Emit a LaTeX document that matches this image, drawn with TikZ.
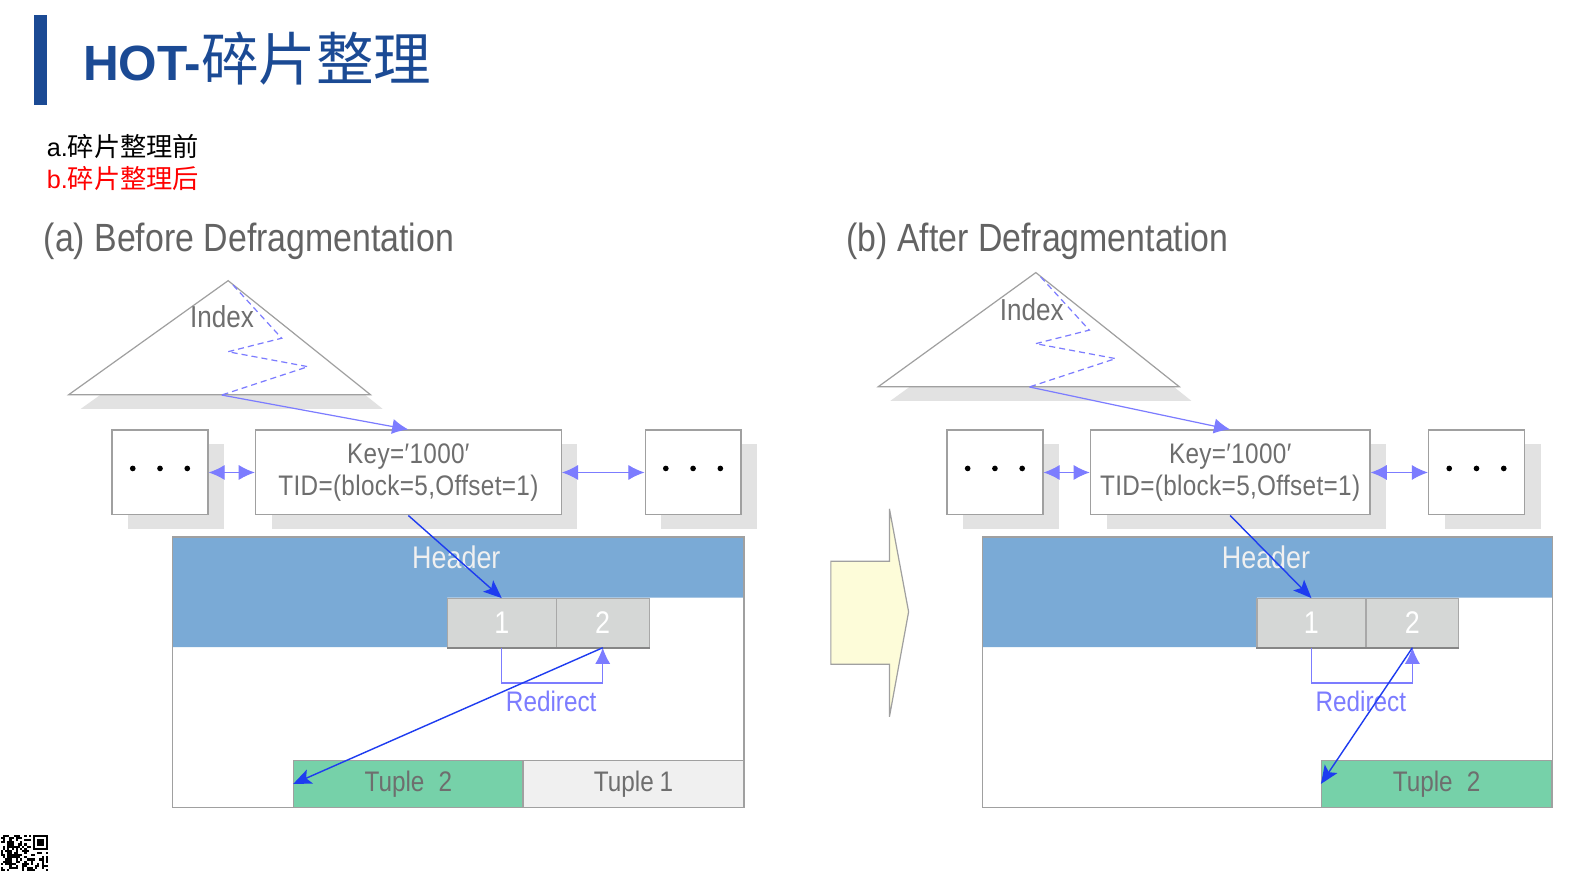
\documentclass[tikz,border=0pt]{standalone}
\usepackage{fontspec}
\setmainfont{Liberation Sans}
\newfontfamily\cjk{Noto Sans CJK SC}
\newfontfamily\narrowfont[FakeStretch=0.86]{Liberation Sans}
\newfontfamily\keyfont[FakeStretch=0.86,LetterSpace=1.2]{Liberation Sans}
\usetikzlibrary{arrows.meta,shadows,calc}
\definecolor{titleblue}{HTML}{1B4A94}
\definecolor{txtgray}{HTML}{6E6E6E}
\definecolor{hdrblue}{HTML}{7AAAD6}
\definecolor{slotgray}{HTML}{D5D7D6}
\definecolor{slotline}{HTML}{A8A8A8}
\definecolor{tupgreen}{HTML}{76D1A9}
\definecolor{tupgray}{HTML}{F0F0F0}
\definecolor{lightarrow}{HTML}{7C7CFF}
\definecolor{darkarrow}{HTML}{1E3CF0}
\definecolor{linegray}{HTML}{A0A0A0}
\definecolor{shadowc}{HTML}{E2E2E2}
\definecolor{arrowfill}{HTML}{FDFCD9}
\definecolor{redtxt}{HTML}{FF0000}
\newcommand{\fsz}[1]{\fontsize{#1}{1.1\dimexpr #1\relax}\selectfont}
\begin{document}
\begin{tikzpicture}[x=0.5pt,y=-0.5pt,
  box/.style={draw=linegray, fill=white, line width=0.6pt, inner sep=0pt,
    drop shadow={shadow xshift=8pt, shadow yshift=-7pt, fill=shadowc, opacity=1}},
  dotsbox/.style={box, minimum width=47.5pt, minimum height=42pt},
  keybox/.style={box, minimum height=42pt, align=center, text=txtgray,
    font=\keyfont\fontsize{14pt}{15.5pt}\selectfont},
  slot/.style={draw=slotline, fill=slotgray, line width=0.6pt, minimum height=24pt,
    inner sep=0pt, text=white, font=\narrowfont\fsz{15.5pt}},
  tuple/.style={draw=linegray, line width=0.6pt, minimum height=23.5pt, inner sep=0pt,
    text=txtgray, font=\narrowfont\fsz{14pt}},
  lbl/.style={text=txtgray, font=\narrowfont\fsz{15pt}, inner sep=0pt},
  hdrtxt/.style={text=white!94!black, font=\narrowfont\fsz{15.5pt}, inner sep=0pt},
  redirtxt/.style={text=lightarrow, font=\narrowfont\fsz{14pt}, inner sep=0pt},
  sectitle/.style={text=txtgray!90!black, font=\narrowfont\fsz{19.5pt}, inner sep=0pt, anchor=west},
  zigzag/.style={draw=lightarrow, line width=0.6pt, dash pattern=on 3pt off 2pt},
  lightarr/.style={draw=lightarrow, line width=0.6pt, -{Latex[length=8pt,width=7.5pt]}},
  dblarr/.style={draw=lightarrow, line width=0.6pt, {Latex[length=8pt,width=7.5pt]}-{Latex[length=8pt,width=7.5pt]}},
  darkarr/.style={draw=darkarrow, line width=0.7pt, -{Stealth[length=9pt,width=7.5pt,inset=2pt]}},
  tri/.style={draw=linegray, fill=white, line width=0.6pt},
  trishadow/.style={fill=shadowc},
  pageframe/.style={draw=linegray, line width=0.7pt},
]
\useasboundingbox (0,0) rectangle (1568,862);
\fill[white] (0,0) rectangle (1568,862);

% ---------- title ----------
\fill[titleblue] (34,15) rectangle (47,104);
\node[anchor=base west, inner sep=0pt, text=titleblue] (title) at (82,80)
  {{\fsz{24.5pt}\bfseries HOT-}{\cjk\fsz{28.5pt}碎片整理}};
\node[anchor=west, inner sep=0pt] (suba) at (46,145) {\fsz{12.5pt}a.{\cjk\fsz{13pt}碎片整理前}};
\node[anchor=west, inner sep=0pt, text=redtxt] (subb) at (46,177) {\fsz{12.5pt}b.{\cjk\fsz{13pt}碎片整理后}};

% ---------- section titles ----------
\node[sectitle] (titA) at (43,239) {(a) Before Defragmentation};
\node[sectitle] (titB) at (838,239) {(b) After Defragmentation};

% ---------- LEFT : index ----------
\fill[trishadow] (80,405) -- (238,292) -- (379,405) -- cycle;
\draw[tri] (68,391) -- (226,278) -- (367,391) -- cycle;
\node[lbl] (indexL) at (220,314) {Index};
\draw[zigzag] (230.8,282.3) -- (279,335) -- (225.8,348.4) -- (305,363.2) -- (219.6,391.3);
\coordinate (ixL) at (219.6,391.3);

\node[dotsbox] (ldL) at (158.5,468) {};
\node[keybox, minimum width=151.5pt] (keyL) at (404.5,468) {Key=′1000′\\TID=(block=5,Offset=1)};
\node[dotsbox] (rdL) at (686.5,468) {};
\foreach \n in {ldL,rdL}{\foreach \dx in {-27,0,27}{\fill ($(\n.center)+(\dx,-4)$) circle (1.4pt);}}

\draw[lightarr] (ixL) -- (keyL.north);
\draw[dblarr] (ldL.east) -- (keyL.west);
\draw[dblarr] (keyL.east) -- (rdL.west);

% page
\fill[hdrblue] (171,532) -- (737,532) -- (737,592) -- (443,592) -- (443,641) -- (171,641) -- cycle;
\draw[pageframe] (171,532) rectangle (737,800);
\node[hdrtxt] (hdrL) at (452,552) {Header};
\node[slot, minimum width=54pt] (s1L) at (497,617) {1};
\node[slot, minimum width=46pt] (s2L) at (597,617) {2};
\draw[slotline!80!black, line width=1pt] (s1L.south west) -- (s2L.south east);
\node[tuple, fill=tupgreen, minimum width=113.5pt] (t2L) at (404.5,776.5) {Tuple\hspace{0.5em}2};
\node[tuple, fill=tupgray, minimum width=109.5pt] (t1L) at (627.5,776.5) {Tuple\hspace{0.2em}1};

\draw[lightarr] (s1L.south) |- ($(s2L.south)+(0,35)$) -- (s2L.south);
\node[redirtxt] (rdtL) at (546,695) {Redirect};
\draw[darkarr] (keyL.south) -- (s1L.north);
\draw[darkarr] (s2L.south) -- (t2L.west);

% ---------- middle block arrow ----------
\draw[draw=linegray, fill=arrowfill, line width=0.6pt]
  (823,556) -- (881,556) -- (881,504) -- (900,606) -- (881,710) -- (881,658) -- (823,658) -- cycle;

% ---------- RIGHT : index ----------
\fill[trishadow] (882,397) -- (1038,284) -- (1180,397) -- cycle;
\draw[tri] (870,383) -- (1026,270) -- (1168,383) -- cycle;
\node[lbl] (indexR) at (1022,307) {Index};
\draw[zigzag] (1030.8,274.3) -- (1079,327) -- (1025.8,340.4) -- (1105,355.2) -- (1019.6,383.3);
\coordinate (ixR) at (1019.6,383.3);

\node[dotsbox] (ldR) at (985.5,468) {};
\node[keybox, minimum width=138.5pt] (keyR) at (1218.5,468) {Key=′1000′\\TID=(block=5,Offset=1)};
\node[dotsbox] (rdR) at (1462.5,468) {};
\foreach \n in {ldR,rdR}{\foreach \dx in {-27,0,27}{\fill ($(\n.center)+(\dx,-4)$) circle (1.4pt);}}

\draw[lightarr] (ixR) -- (keyR.north);
\draw[dblarr] (ldR.east) -- (keyR.west);
\draw[dblarr] (keyR.east) -- (rdR.west);

\fill[hdrblue] (973,532) -- (1538,532) -- (1538,592) -- (1245,592) -- (1245,641) -- (973,641) -- cycle;
\draw[pageframe] (973,532) rectangle (1538,800);
\node[hdrtxt] (hdrR) at (1254,552) {Header};
\node[slot, minimum width=54pt] (s1R) at (1299,617) {1};
\node[slot, minimum width=46pt] (s2R) at (1399,617) {2};
\draw[slotline!80!black, line width=1pt] (s1R.south west) -- (s2R.south east);
\node[tuple, fill=tupgreen, minimum width=114pt] (t2R) at (1423,776.5) {Tuple\hspace{0.5em}2};

\draw[lightarr] (s1R.south) |- ($(s2R.south)+(0,35)$) -- (s2R.south);
\node[redirtxt] (rdtR) at (1348,695) {Redirect};
\draw[darkarr] (keyR.south) -- (s1R.north);
\draw[darkarr] (s2R.south) -- (t2R.west);

% ---------- QR fragment ----------
\pgfmathsetseed{12}
\foreach \c in {0,...,21}{
  \foreach \r in {0,...,16}{
    \pgfmathrandominteger{\qb}{0}{1}
    \pgfmathtruncatemacro{\qskip}{and(\c>13,\r<8)}
    \ifnum\qskip=0 \ifnum\qb=1
      \fill[black] ({0.86+\c*2.12},{827+\r*2.12}) rectangle ++(2.12,2.12);
    \fi\fi
  }
}
\fill[black] (32.7,827) rectangle (47.5,841.8);
\fill[white] (34.8,829.1) rectangle (45.4,839.7);
\fill[black] (36.9,831.2) rectangle (43.3,837.6);
\end{tikzpicture}
\end{document}
